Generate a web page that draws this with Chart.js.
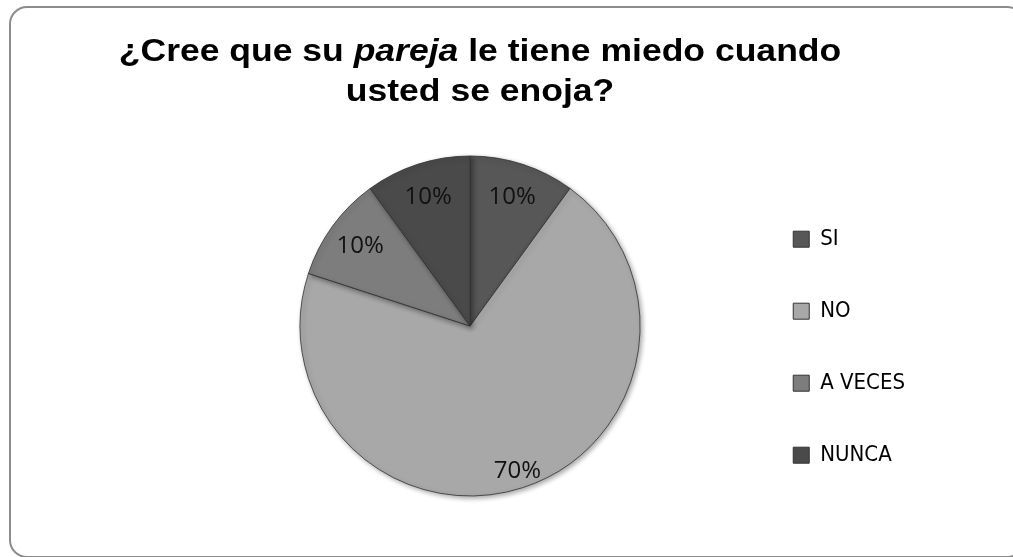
<!DOCTYPE html>
<html>
<head>
<meta charset="utf-8">
<script src="https://cdn.jsdelivr.net/npm/chart.js@4/dist/chart.umd.min.js"></script>
<style>
  html, body { margin: 0; padding: 0; background: #fff; overflow: hidden; }
  #wrap { position: relative; width: 1013px; height: 557px; overflow: hidden; }
  #frame {
    position: absolute; left: 9px; top: 6px; width: 1016px; height: 552px;
    border: 2px solid #8c8c8c; border-radius: 18px; box-sizing: border-box;
  }
  #title {
    position: absolute; left: 0; top: 30px; width: 960px; text-align: center;
    font-family: "Liberation Sans", Arial, sans-serif; font-weight: bold;
    font-size: 32px; line-height: 40px; color: #000;
    transform: scaleX(1.11); transform-origin: 480px 0;
  }
  #chart { position: absolute; left: 0; top: 0; }
</style>
</head>
<body>
<div id="wrap">
  <div id="frame"></div>
  <canvas id="chart" width="1013" height="557"></canvas>
  <div id="title">¿Cree que su <i>pareja</i> le tiene miedo cuando<br>usted se enoja?</div>
</div>
<script>
const labels = ["SI", "NO", "A VECES", "NUNCA"];
const values = [10, 70, 10, 10];
const colors = ["#575757", "#a8a8a8", "#7d7d7d", "#4a4a4a"];

// percent labels inside the slices
const sliceLabels = {
  id: "sliceLabels",
  afterDatasetsDraw(chart) {
    const ctx = chart.ctx;
    const meta = chart.getDatasetMeta(0);
    const total = values.reduce((a, b) => a + b, 0);
    ctx.save();
    ctx.font = "24px 'Open Sans', sans-serif";
    ctx.fillStyle = "#111";
    ctx.textAlign = "center";
    ctx.textBaseline = "middle";
    meta.data.forEach((arc, i) => {
      const p = arc.getProps(["x", "y", "startAngle", "endAngle", "outerRadius"], true);
      const mid = (p.startAngle + p.endAngle) / 2;
      const r = p.outerRadius * (values[i] / total > 0.5 ? 0.9 : 0.8);
      const pct = Math.round((values[i] / total) * 100) + "%";
      ctx.fillText(pct, p.x + Math.cos(mid) * r, p.y + Math.sin(mid) * r);
    });
    ctx.restore();
  },
};

// soft shadow under the pie
const pieShadow = {
  id: "pieShadow",
  beforeDatasetsDraw(chart) {
    const ctx = chart.ctx;
    ctx.save();
    ctx.shadowColor = "rgba(0,0,0,0.35)";
    ctx.shadowBlur = 5;
    ctx.shadowOffsetX = 2;
    ctx.shadowOffsetY = 2;
  },
  afterDatasetsDraw(chart) {
    chart.ctx.restore();
  },
};

new Chart(document.getElementById("chart"), {
  type: "pie",
  data: {
    labels: labels,
    datasets: [
      {
        data: values,
        backgroundColor: colors,
        borderColor: "rgba(50,50,50,0.8)",
        borderWidth: 1,
        radius: 170,
      },
    ],
  },
  options: {
    responsive: false,
    animation: false,
    layout: { padding: { left: 197, top: 100, bottom: 5, right: 98 } },
    plugins: {
      tooltip: { enabled: false },
      legend: {
        position: "right",
        title: { display: true, text: " ", font: { size: 12 }, padding: 14 },
        labels: {
          boxWidth: 16,
          boxHeight: 16,
          padding: 50,
          color: "#000",
          font: { family: "'DejaVu Sans Condensed', sans-serif", size: 22 },
          generateLabels(chart) {
            return labels.map((l, i) => ({
              text: l,
              fillStyle: colors[i],
              strokeStyle: "#333",
              fontColor: "#000",
              lineWidth: 1,
              index: i,
            }));
          },
        },
      },
    },
  },
  plugins: [pieShadow, sliceLabels],
});
</script>
</body>
</html>
